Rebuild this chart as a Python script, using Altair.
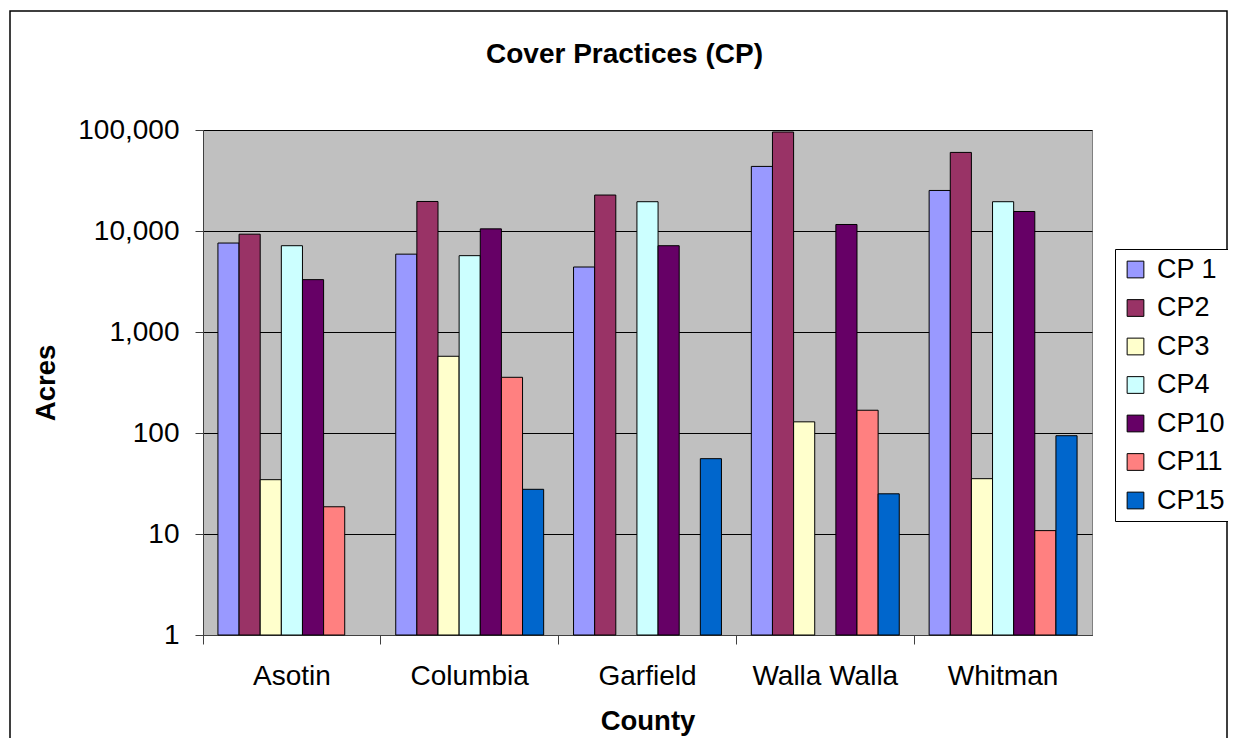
import altair as alt
import pandas as pd

counties = ["Asotin", "Columbia", "Garfield", "Walla Walla", "Whitman"]
practices = ["CP 1", "CP2", "CP3", "CP4", "CP10", "CP11", "CP15"]
colors = ["#9999FF", "#993366", "#FFFFCC", "#CCFFFF", "#660066", "#FF8080", "#0066CC"]

# acres per county (None = no bar)
cp1 = [7600, 5900, 4400, 43600, 25200]
cp2 = [9300, 19600, 22700, 95500, 60000]
cp3 = [34.5, 575, None, 129, 35.3]
cp4 = [7150, 5700, 19500, None, 19500]
cp10 = [3300, 10500, 7150, 11600, 15600]
cp11 = [18.6, 356, None, 168, 10.8]
cp15 = [None, 27.7, 55.7, 25, 94]

y_ticks = [1, 10, 100, 1000, 10000, 100000]
baseline_value = 1

series = [cp1, cp2, cp3, cp4, cp10, cp11, cp15]
rows = []
for name, vals in zip(practices, series):
    for c, v in zip(counties, vals):
        if v is not None:
            rows.append({"County": c, "CP": name, "Acres": v, "Base": baseline_value})
df = pd.DataFrame(rows)

FONT = "Liberation Sans"

bars = alt.Chart(df).mark_bar(stroke="black", strokeWidth=1).encode(
    x=alt.X("County:N", sort=counties,
            scale=alt.Scale(domain=counties, paddingInner=0.168, paddingOuter=0.084),
            axis=alt.Axis(title="County", labelAngle=0, labelFontSize=28, labelFont=FONT,
                          labelColor="black", labelPadding=18, tickSize=9, tickColor="#404040",
                          domainColor="#404040", bandPosition=-0.1008,
                          titleFontSize=27.5, titleFont=FONT, titleFontWeight="bold",
                          titleColor="black", titlePadding=17, grid=False)),
    xOffset=alt.XOffset("CP:N", sort=practices,
                        scale=alt.Scale(domain=practices, paddingInner=0, paddingOuter=0)),
    y=alt.Y("Acres:Q",
            scale=alt.Scale(type="log", domain=[1, 100000], nice=False),
            axis=alt.Axis(title="Acres", values=y_ticks, format=",", labelFontSize=28,
                          labelFont=FONT, labelColor="black", labelPadding=16, tickSize=8,
                          tickColor="#404040", domainColor="#404040",
                          gridColor="black", gridWidth=1,
                          titleFontSize=27.5, titleFont=FONT, titleFontWeight="bold",
                          titleColor="black", titlePadding=17)),
    y2=alt.Y2("Base:Q"),
    color=alt.Color("CP:N", sort=practices,
                    scale=alt.Scale(domain=practices, range=colors),
                    legend=alt.Legend(orient="none", legendX=912, legendY=119, title=None,
                                      symbolType="square", symbolSize=280,
                                      symbolStrokeColor="black", symbolStrokeWidth=1,
                                      symbolOpacity=1,
                                      labelFontSize=27, labelFont=FONT, labelColor="black",
                                      labelOffset=8, rowPadding=10.5, padding=7,
                                      strokeColor="black", fillColor="white")),
)

frame = alt.Chart(pd.DataFrame({"k": [0]})).mark_rect(
    fill="white", fillOpacity=0, stroke="black", strokeWidth=1.5
).encode(
    x=alt.value(-193), x2=alt.value(1024), y=alt.value(-119), y2=alt.value(700)
)

chart = alt.layer(bars, frame).properties(
    width=889, height=505,
    title=alt.TitleParams("Cover Practices (CP)", fontSize=28, font=FONT, fontWeight="bold",
                          color="black", anchor="middle", dx=-23, offset=-59),
    autosize=alt.AutoSizeParams(type="none"),
    padding={"left": 195, "top": 122, "right": 136, "bottom": 103},
).configure_view(fill="#C0C0C0", stroke="#808080", strokeWidth=1)

chart.save("out.html", embed_options={"renderer": "svg", "actions": False})
